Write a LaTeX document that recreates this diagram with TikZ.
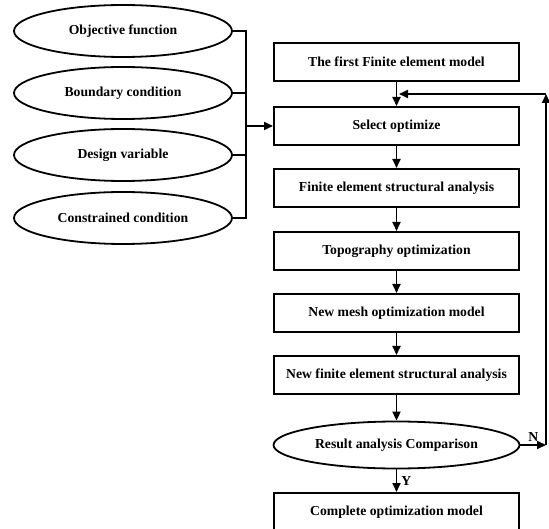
\documentclass[tikz,border=0pt]{standalone}
\usepackage{fontspec}
\setmainfont{Liberation Serif}
\usetikzlibrary{shapes.geometric,arrows.meta}

\begin{document}
\begin{tikzpicture}[x=1pt, y=-1pt, >={Triangle[length=9pt,width=8pt]}]
\useasboundingbox (0,0) rectangle (549,529);
% inputs on the left
\begin{scope}[every node/.style = {ellipse, draw, line width=1.8pt, minimum width=218pt, minimum height=52pt, inner sep=0pt, font=\fontsize{13.7}{16}\selectfont\bfseries}]
\node (obj) at (123, 31) {Objective function};
\node (bnd) at (123, 93) {Boundary condition};
\node (dv) at (123, 155) {Design variable};
\node (cc) at (123, 218) {Constrained condition};
\end{scope}
% main flow
\begin{scope}[every node/.style = {rectangle, draw, line width=2pt, minimum width=245pt, minimum height=38pt, inner sep=0pt, font=\fontsize{13.7}{16}\selectfont\bfseries}]
\node (fem) at (396.5, 62) {The first Finite element model};
\node (sel) at (396.5, 126) {Select optimize};
\node (fea) at (396.5, 188) {Finite element structural analysis};
\node (topo) at (396.5, 251) {Topography optimization};
\node (mesh) at (396.5, 313) {New mesh optimization model};
\node (nfea) at (396.5, 375) {New finite element structural analysis};
\node (done) at (396.5, 512) {Complete optimization model};
\end{scope}
\node[ellipse, draw, line width=1.8pt, minimum width=246pt, minimum height=47pt, inner sep=0pt, font=\fontsize{13.7}{16}\selectfont\bfseries] (res) at (396.5, 445) {Result analysis Comparison};
\coordinate (bus) at (246, 126);
\coordinate (fbr) at (546, 445);
\coordinate (fbt) at (546, 94);
\coordinate (fbl) at (399, 94);
\begin{scope}[line width=1.8pt]
\draw (obj.east) -| (bus);
\draw (bnd.east) -| (bus);
\draw (dv.east) -| (bus);
\draw (cc.east) -| (bus);
\draw[->] (bus) -- (sel.west);
\draw[->] (fem) -- (sel);
\draw[->] (sel) -- (fea);
\draw[->] (fea) -- (topo);
\draw[->] (topo) -- (mesh);
\draw[->] (mesh) -- (nfea);
\draw[->] (nfea) -- (res);
\draw[->] (res) -- node[right, font=\fontsize{13.7}{16}\selectfont\bfseries, inner sep=4pt] {Y} (done);
\draw[->] (res.east) -- node[above, font=\fontsize{13.7}{16}\selectfont\bfseries, inner sep=3pt, pos=0.5] {N} (fbr);
\draw[->] (fbr) -- (fbt);
\draw[->] (fbt) -- (fbl);
\end{scope}
\end{tikzpicture}
\end{document}
